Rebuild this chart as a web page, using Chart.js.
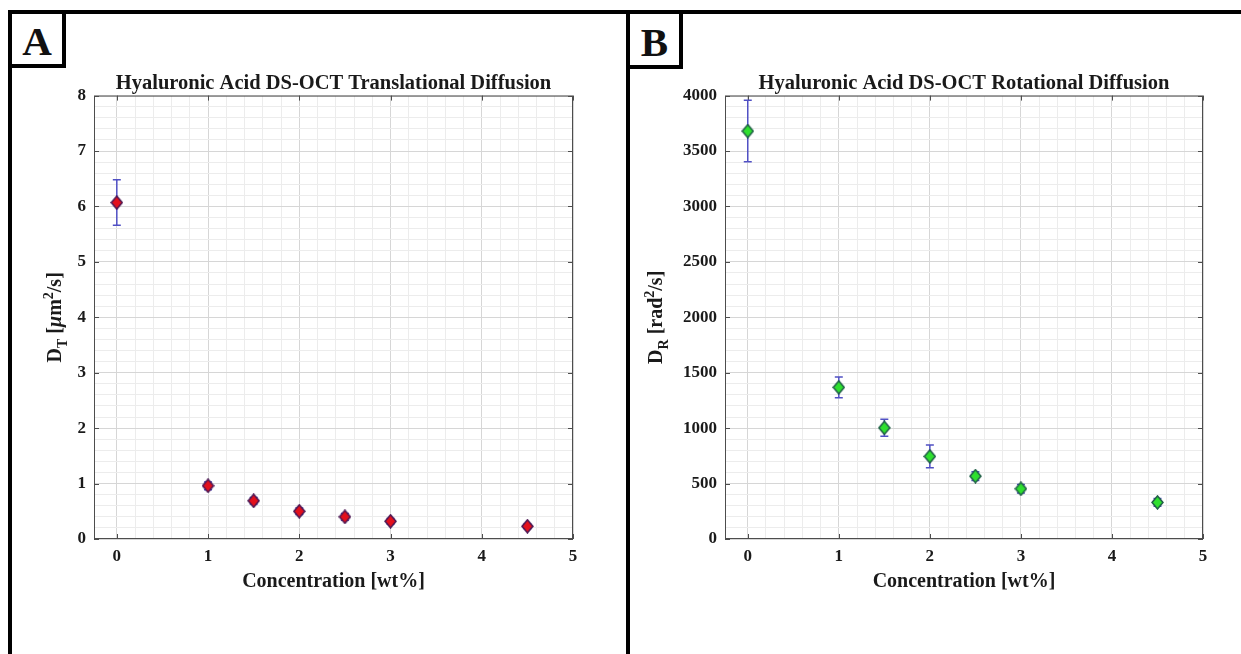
<!DOCTYPE html>
<html lang="en">
<head>
<meta charset="utf-8">
<title>Hyaluronic Acid DS-OCT Diffusion</title>
<script src="https://cdn.jsdelivr.net/npm/chart.js@4.4.1/dist/chart.umd.min.js"></script>
<style>
  html, body { margin: 0; padding: 0; background: #fff; }
  #page { position: relative; width: 1241px; height: 654px; overflow: hidden; background: #fff; }
  canvas { position: absolute; top: 0; }
  #chartA { left: 0; }
  #chartB { left: 620px; }
  .panel { position: absolute; top: 10px; height: 700px; border: 4px solid #000; box-sizing: border-box; z-index: 2; pointer-events: none; }
  .tag { position: absolute; top: 10px; height: 58px; border: 4px solid #000; box-sizing: border-box; background: #fff; z-index: 3;
         font: bold 41px 'Liberation Serif', 'Times New Roman', serif; color: #111; padding-top: 4px;
         display: flex; align-items: center; justify-content: center; }
</style>
</head>
<body>
<div id="page">
  <canvas id="chartA" width="620" height="654"></canvas>
  <canvas id="chartB" width="621" height="654"></canvas>
  <div class="panel" style="left: 8px; width: 622px;"></div>
  <div class="panel" style="left: 626px; width: 700px;"></div>
  <div class="tag" style="left: 8px; width: 58px;">A</div>
  <div class="tag" style="left: 626px; width: 57px; height: 59px;">B</div>
</div>
<script>
// index.html – DS-OCT diffusion of hyaluronic acid, two scatter panels with error bars

const concentration = [0, 1, 1.5, 2, 2.5, 3, 4.5]; // wt%
const translationalMean = [6.07, 0.96, 0.69, 0.5, 0.4, 0.32, 0.23]; // um^2/s
const translationalErr = [0.41, 0.07, 0.06, 0.06, 0.06, 0.05, 0.04];
const rotationalMean = [3680, 1368, 1003, 745, 567, 453, 330]; // rad^2/s
const rotationalErr = [277, 93, 77, 103, 40, 38, 35];

const xTickLabels = [0, 1, 2, 3, 4, 5];
const translationalTicks = [0, 1, 2, 3, 4, 5, 6, 7, 8];
const rotationalTicks = [0, 500, 1000, 1500, 2000, 2500, 3000, 3500, 4000];

const SERIF = "'Liberation Serif', 'Times New Roman', serif";
const TEXT = '#1a1a1a';

/**
 * True when value sits on one of the labelled (major) ticks.
 */
function isMajor(value, majors) {
  return majors.some((m) => Math.abs(m - value) < 1e-6);
}

/**
 * Scriptable grid colour: darker for major ticks, faint for minor ones.
 */
function gridColor(majors) {
  return (ctx) => {
    const v = ctx.tick ? ctx.tick.value : NaN;
    return isMajor(v, majors) ? '#d6d6d6' : '#ececec';
  };
}

/**
 * Small offscreen canvas with a slightly tall diamond, used as pointStyle
 * (MATLAB's 'd' marker is a bit taller than wide).
 */
function makeDiamond(fill, edge) {
  const w = 13;
  const h = 15;
  const c = document.createElement('canvas');
  c.width = w;
  c.height = h;
  const g = c.getContext('2d');
  g.beginPath();
  g.moveTo(w / 2, 1);
  g.lineTo(w - 1, h / 2);
  g.lineTo(w / 2, h - 1);
  g.lineTo(1, h / 2);
  g.closePath();
  g.fillStyle = fill;
  g.fill();
  g.lineWidth = 1.5;
  g.strokeStyle = edge;
  g.stroke();
  return c;
}

/**
 * Draws a rotated axis title made of pieces (subscript / superscript aware).
 */
function drawYTitle(ctx, parts, cx, cy) {
  const fontFor = (p) => `${p.italic ? 'italic ' : ''}bold ${p.sub || p.sup ? 14 : 20}px ${SERIF}`;
  ctx.save();
  ctx.translate(cx, cy);
  ctx.rotate(-Math.PI / 2);
  ctx.textBaseline = 'middle';
  ctx.textAlign = 'left';
  ctx.fillStyle = TEXT;
  let total = 0;
  parts.forEach((p) => {
    ctx.font = fontFor(p);
    total += ctx.measureText(p.text).width;
  });
  let pos = -total / 2;
  parts.forEach((p) => {
    ctx.font = fontFor(p);
    const dy = p.sub ? 7 : p.sup ? -7 : 0;
    ctx.fillText(p.text, pos, dy);
    pos += ctx.measureText(p.text).width;
  });
  ctx.restore();
}

// MATLAB-like box with inward ticks, error bars, and the y title
const figureDecor = {
  id: 'figureDecor',
  beforeDatasetsDraw(chart, args, opts) {
    const { ctx, chartArea: area, scales } = chart;
    const x = scales.x;
    const y = scales.y;
    ctx.save();
    ctx.strokeStyle = '#4d4d4d';
    ctx.lineWidth = 1;
    ctx.strokeRect(area.left + 0.5, area.top + 0.5, area.width - 1, area.height - 1);
    ctx.beginPath();
    opts.xMajors.forEach((v) => {
      const px = Math.round(x.getPixelForValue(v)) + 0.5;
      ctx.moveTo(px, area.bottom);
      ctx.lineTo(px, area.bottom - 5);
      ctx.moveTo(px, area.top);
      ctx.lineTo(px, area.top + 5);
    });
    opts.yMajors.forEach((v) => {
      const py = Math.round(y.getPixelForValue(v)) + 0.5;
      ctx.moveTo(area.left, py);
      ctx.lineTo(area.left + 5, py);
      ctx.moveTo(area.right, py);
      ctx.lineTo(area.right - 5, py);
    });
    ctx.stroke();

    // vertical error bars with caps
    ctx.strokeStyle = '#5050c4';
    ctx.lineWidth = 1.5;
    ctx.beginPath();
    chart.data.datasets[0].data.forEach((pt, i) => {
      const err = opts.errors[i];
      const px = x.getPixelForValue(pt.x);
      const top = y.getPixelForValue(pt.y + err);
      const bottom = y.getPixelForValue(pt.y - err);
      ctx.moveTo(px, top);
      ctx.lineTo(px, bottom);
      ctx.moveTo(px - 4, top);
      ctx.lineTo(px + 4, top);
      ctx.moveTo(px - 4, bottom);
      ctx.lineTo(px + 4, bottom);
    });
    ctx.stroke();
    ctx.restore();
  },
  afterDraw(chart, args, opts) {
    const area = chart.chartArea;
    drawYTitle(chart.ctx, opts.yTitle, opts.yTitleX, (area.top + area.bottom) / 2);
  },
};

/**
 * Builds one panel: scatter of means with error bars on a gridded box.
 */
function buildPanel(canvasId, cfg) {
  const canvas = document.getElementById(canvasId);
  if (!canvas) return null;
  const tickFont = { family: SERIF, size: 17, weight: 'bold' };
  return new Chart(canvas.getContext('2d'), {
    type: 'scatter',
    data: {
      datasets: [
        {
          data: concentration.map((c, i) => ({ x: c, y: cfg.values[i] })),
          pointStyle: makeDiamond(cfg.fill, cfg.edge),
          pointRadius: 7,
          backgroundColor: cfg.fill,
          borderColor: cfg.edge,
        },
      ],
    },
    options: {
      responsive: false,
      animation: false,
      events: [],
      layout: { padding: { left: 0, top: 0, right: cfg.padRight, bottom: 60 } },
      plugins: {
        legend: { display: false },
        tooltip: { enabled: false },
        title: {
          display: true,
          text: cfg.title,
          fullSize: false,
          color: TEXT,
          font: { family: SERIF, size: 20.5, weight: 'bold' },
          padding: { top: 71, bottom: 0 },
        },
        figureDecor: {
          errors: cfg.errors,
          xMajors: xTickLabels,
          yMajors: cfg.yTicks,
          yTitle: cfg.yTitle,
          yTitleX: cfg.yTitleX,
        },
      },
      scales: {
        x: {
          type: 'linear',
          min: -0.25,
          max: 5,
          ticks: {
            stepSize: 0.2,
            autoSkip: false,
            maxRotation: 0,
            padding: 7,
            color: TEXT,
            font: tickFont,
            callback: (v) => (isMajor(v, xTickLabels) ? String(Math.round(v)) : ''),
          },
          grid: { drawTicks: false, color: gridColor(xTickLabels) },
          border: { display: false },
          title: {
            display: true,
            text: 'Concentration [wt%]',
            color: TEXT,
            font: { family: SERIF, size: 20, weight: 'bold' },
            padding: { top: 0, bottom: 0 },
          },
          afterFit: (scale) => {
            scale.height = 55;
          },
        },
        y: {
          type: 'linear',
          min: 0,
          max: cfg.yTicks[cfg.yTicks.length - 1],
          ticks: {
            stepSize: cfg.yStep,
            autoSkip: false,
            padding: 8,
            color: TEXT,
            font: tickFont,
            callback: (v) => (isMajor(v, cfg.yTicks) ? String(Math.round(v)) : ''),
          },
          grid: { drawTicks: false, color: gridColor(cfg.yTicks) },
          border: { display: false },
          afterFit: (scale) => {
            scale.width = cfg.yWidth;
          },
        },
      },
    },
    plugins: [figureDecor],
  });
}

document.addEventListener('DOMContentLoaded', () => {
  buildPanel('chartA', {
    title: 'Hyaluronic Acid DS-OCT Translational Diffusion',
    values: translationalMean,
    errors: translationalErr,
    yTicks: translationalTicks,
    yStep: 0.2,
    fill: '#e3101c',
    edge: '#4a1552',
    padRight: 47,
    yWidth: 94,
    yTitleX: 56,
    yTitle: [
      { text: 'D' },
      { text: 'T', sub: true },
      { text: ' [' },
      { text: 'μ', italic: true },
      { text: 'm' },
      { text: '2', sup: true },
      { text: '/s]' },
    ],
  });
  buildPanel('chartB', {
    title: 'Hyaluronic Acid DS-OCT Rotational Diffusion',
    values: rotationalMean,
    errors: rotationalErr,
    yTicks: rotationalTicks,
    yStep: 100,
    fill: '#2fe02f',
    edge: '#1f5e46',
    padRight: 38,
    yWidth: 105,
    yTitleX: 37,
    yTitle: [
      { text: 'D' },
      { text: 'R', sub: true },
      { text: ' [rad' },
      { text: '2', sup: true },
      { text: '/s]' },
    ],
  });
});
</script>
</body>
</html>
